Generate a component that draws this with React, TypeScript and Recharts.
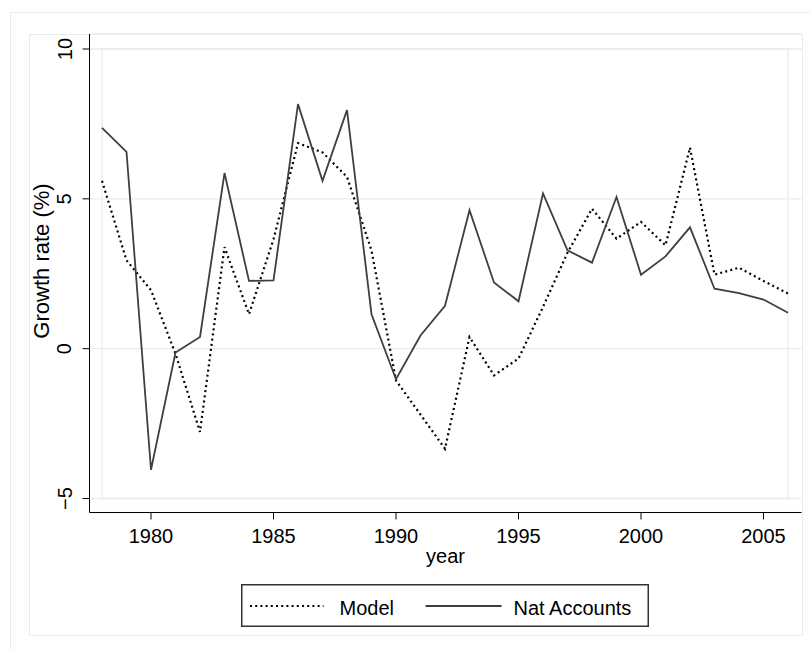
import React from "react";
import {
  LineChart,
  Line,
  XAxis,
  YAxis,
  CartesianGrid,
  Legend,
  ReferenceArea,
  Label,
} from "recharts";

const years = [
  1978, 1979, 1980, 1981, 1982, 1983, 1984, 1985, 1986, 1987, 1988, 1989, 1990, 1991, 1992,
  1993, 1994, 1995, 1996, 1997, 1998, 1999, 2000, 2001, 2002, 2003, 2004, 2005, 2006,
];

const modelGrowth = [
  5.6, 2.95, 1.95, -0.17, -2.78, 3.39, 1.15, 3.65, 6.86, 6.55, 5.73, 3.28, -1.06, -2.2, -3.34,
  0.39, -0.89, -0.33, 1.39, 3.2, 4.67, 3.67, 4.23, 3.45, 6.71, 2.47, 2.7, 2.26, 1.84,
];

const natAccounts = [
  7.37, 6.57, -4.04, -0.13, 0.39, 5.86, 2.26, 2.28, 8.16, 5.6, 7.96, 1.15, -1.02, 0.44, 1.43,
  4.62, 2.21, 1.58, 5.18, 3.28, 2.87, 5.06, 2.47, 3.08, 4.05, 2.0, 1.85, 1.64, 1.2,
];

const xTicks = [1980, 1985, 1990, 1995, 2000, 2005];
const yTicks = [-5, 0, 5, 10];

const chartData = years.map((year, i) => ({
  year,
  model: modelGrowth[i],
  nat: natAccounts[i],
}));

const FONT = '"Liberation Sans", Arial, Helvetica, sans-serif';
const FRAME = "#e6eef1";
const NAT_COLOR = "#3f3f3f";

const XTick = (props: any) => {
  const { x, y, payload } = props;
  return (
    <text x={x} y={y + 23} textAnchor="middle" fontSize={20} fontFamily={FONT} fill="#000">
      {payload.value}
    </text>
  );
};

const YTick = (props: any) => {
  const { x, y, payload } = props;
  const label = payload.value < 0 ? `\u2212${Math.abs(payload.value)}` : String(payload.value);
  return (
    <text
      x={x - 11}
      y={y}
      transform={`rotate(-90, ${x - 11}, ${y})`}
      textAnchor="middle"
      fontSize={20}
      fontFamily={FONT}
      fill="#000"
    >
      {label}
    </text>
  );
};

// legend sample positions inside the box
const legendSlots = [
  { lineFrom: 9, lineTo: 82.5, textX: 98.5 },
  { lineFrom: 184.5, lineTo: 260.5, textX: 272.5 },
];

const renderLegend = (props: any) => {
  const items = props.payload || [];
  return (
    <svg width={408} height={43} style={{ display: "block" }}>
      <rect x={0.75} y={0.75} width={406.5} height={41.5} fill="#fff" stroke="#333" strokeWidth={1.5} />
      {items.map((item: any, i: number) => {
        const slot = legendSlots[i];
        if (!slot) return null;
        const dashed = item.payload && item.payload.strokeDasharray;
        return (
          <g key={item.value}>
            <line
              x1={slot.lineFrom}
              x2={slot.lineTo}
              y1={22}
              y2={22}
              stroke={item.color}
              strokeWidth={dashed ? 2.2 : 1.8}
              strokeDasharray={dashed || undefined}
            />
            <text x={slot.textX} y={31} fontSize={20} fontFamily={FONT} fill="#000">
              {item.value}
            </text>
          </g>
        );
      })}
    </svg>
  );
};

export default function App() {
  return (
    <div
      style={{
        position: "absolute",
        left: 0,
        top: 0,
        width: 810,
        height: 650,
        overflow: "hidden",
        background: "#fff",
      }}
    >
      {/* graph region frames */}
      <div
        style={{
          position: "absolute",
          left: 10,
          top: 12,
          width: 840,
          height: 700,
          border: `1px solid ${FRAME}`,
        }}
      />
      <div
        style={{
          position: "absolute",
          left: 29,
          top: 33.5,
          width: 772,
          height: 600,
          border: `1px solid ${FRAME}`,
        }}
      />
      <div style={{ position: "absolute", left: 0, top: 0 }}>
        <LineChart
          width={810}
          height={650}
          data={chartData}
          margin={{ top: 34, right: 8.5, bottom: 87.5, left: 29.5 }}
        >
          <CartesianGrid horizontal vertical={false} stroke={FRAME} strokeWidth={1.3} />
          <ReferenceArea
            x1={1978}
            x2={2006}
            y1={-5}
            y2={10}
            fill="none"
            stroke={FRAME}
            strokeWidth={1.3}
          />
          <XAxis
            dataKey="year"
            type="number"
            domain={[1978, 2006]}
            ticks={xTicks}
            interval={0}
            padding={{ left: 12.5, right: 13.5 }}
            height={50}
            tickSize={7}
            tickMargin={0}
            axisLine={{ stroke: "#000", strokeWidth: 1 }}
            tickLine={{ stroke: "#000", strokeWidth: 1 }}
            tick={<XTick />}
          >
            <Label
              content={(p: any) => {
                const vb = p.viewBox;
                return (
                  <text
                    x={vb.x + vb.width / 2}
                    y={vb.y + 50}
                    textAnchor="middle"
                    fontSize={20}
                    fontFamily={FONT}
                    fill="#000"
                  >
                    year
                  </text>
                );
              }}
            />
          </XAxis>
          <YAxis
            type="number"
            domain={[-5, 10]}
            ticks={yTicks}
            interval={0}
            padding={{ top: 15, bottom: 14 }}
            width={60}
            tickSize={7}
            tickMargin={0}
            axisLine={{ stroke: "#000", strokeWidth: 1 }}
            tickLine={{ stroke: "#000", strokeWidth: 1 }}
            tick={<YTick />}
          >
            <Label
              content={(p: any) => {
                const vb = p.viewBox;
                const cx = vb.x + 19;
                const cy = vb.y + 227;
                return (
                  <text
                    x={cx}
                    y={cy}
                    transform={`rotate(-90, ${cx}, ${cy})`}
                    textAnchor="middle"
                    fontSize={22}
                    fontFamily={FONT}
                    fill="#000"
                  >
                    Growth rate (%)
                  </text>
                );
              }}
            />
          </YAxis>
          <Legend
            layout="horizontal"
            verticalAlign="middle"
            align="center"
            content={renderLegend}
            wrapperStyle={{ position: "absolute", left: 241, top: 584, width: 408, height: 43 }}
          />
          <Line
            type="linear"
            dataKey="model"
            name="Model"
            stroke="#000"
            strokeWidth={2.2}
            strokeDasharray="2 3.2"
            dot={false}
            activeDot={false}
            isAnimationActive={false}
          />
          <Line
            type="linear"
            dataKey="nat"
            name="Nat Accounts"
            stroke={NAT_COLOR}
            strokeWidth={1.8}
            dot={false}
            activeDot={false}
            isAnimationActive={false}
          />
        </LineChart>
      </div>
    </div>
  );
}
